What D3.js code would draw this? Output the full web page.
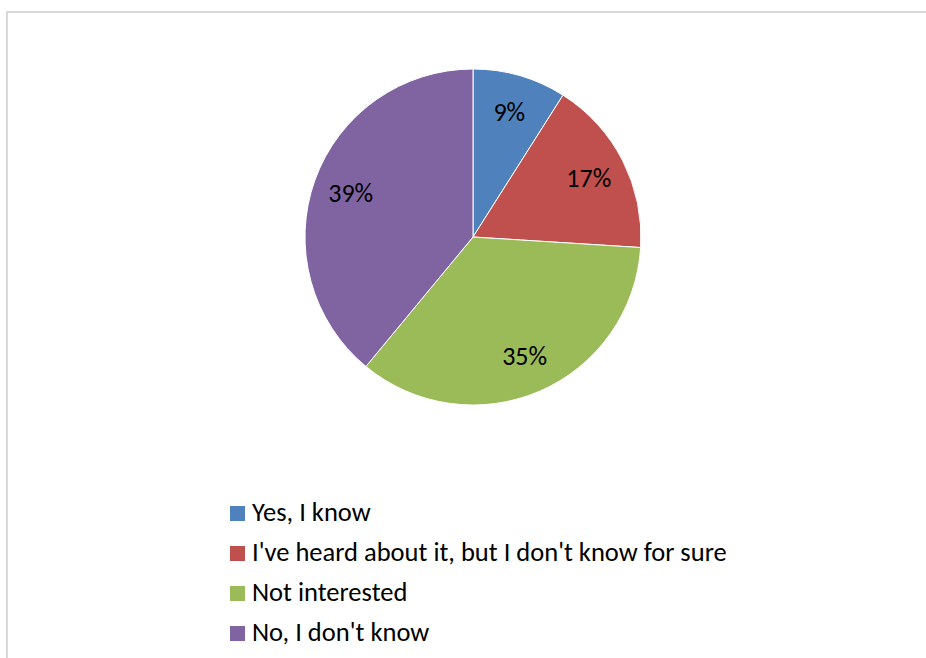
<!DOCTYPE html>
<html>
<head>
<meta charset="utf-8">
<script src="https://cdn.jsdelivr.net/npm/d3@7"></script>
<style>
	html, body { margin: 0; padding: 0; background: #fff; }
	svg { display: block; }
	text { font-family: Carlito, Calibri, 'Open Sans', 'Noto Sans', sans-serif; fill: #000; }
</style>
</head>
<body>
<svg id="chart" width="926" height="658"></svg>
<script>
var categories = ['Yes, I know', "I've heard about it, but I don't know for sure", 'Not interested', "No, I don't know"];
var values = [9, 17, 35, 39];
var labels = ['9%', '17%', '35%', '39%'];
var colorList = ['#4f81bd', '#c0504d', '#9bbb59', '#8064a2'];

var svg = d3.select('#chart'),
	width = 926, height = 658,
	cx = 473, cy = 237, radius = 168;

// chart frame (runs off right/bottom edges like the original)
svg.append('rect')
	.attr('x', 7).attr('y', 12)
	.attr('width', width + 20).attr('height', height + 20)
	.attr('fill', 'none').attr('stroke', '#d9d9d9').attr('stroke-width', 2);

var color = d3.scaleOrdinal().domain(categories).range(colorList);

var pie = d3.pie().sort(null).value(function(d) { return d.value; });
var data = categories.map(function(c, i) { return { name: c, value: values[i], label: labels[i] }; });

var arc = d3.arc().innerRadius(0).outerRadius(radius);
var labelArc = d3.arc().innerRadius(130).outerRadius(130);

var g = svg.append('g').attr('transform', 'translate(' + cx + ',' + cy + ')');

g.selectAll('path.slice').data(pie(data)).enter().append('path')
	.attr('class', 'slice')
	.attr('d', arc)
	.attr('fill', function(d) { return color(d.data.name); })
	.attr('stroke', '#fff').attr('stroke-width', 1);

g.selectAll('text.lbl').data(pie(data)).enter().append('text')
	.attr('class', 'lbl')
	.attr('transform', function(d) { var c = labelArc.centroid(d); return 'translate(' + c[0] + ',' + c[1] + ')'; })
	.attr('text-anchor', 'middle')
	.attr('dy', '0.35em')
	.style('font-size', '26px')
	.text(function(d) { return d.data.label; });

// legend
var legend = svg.append('g').attr('transform', 'translate(230,506)');
var row = legend.selectAll('g').data(categories).enter().append('g')
	.attr('transform', function(d, i) { return 'translate(0,' + (i * 40) + ')'; });
row.append('rect').attr('width', 15).attr('height', 15).attr('fill', function(d) { return color(d); });
row.append('text')
	.attr('x', 22).attr('y', 15)
	.style('font-size', '26.5px')
	.text(function(d) { return d; });
</script>
</body>
</html>
